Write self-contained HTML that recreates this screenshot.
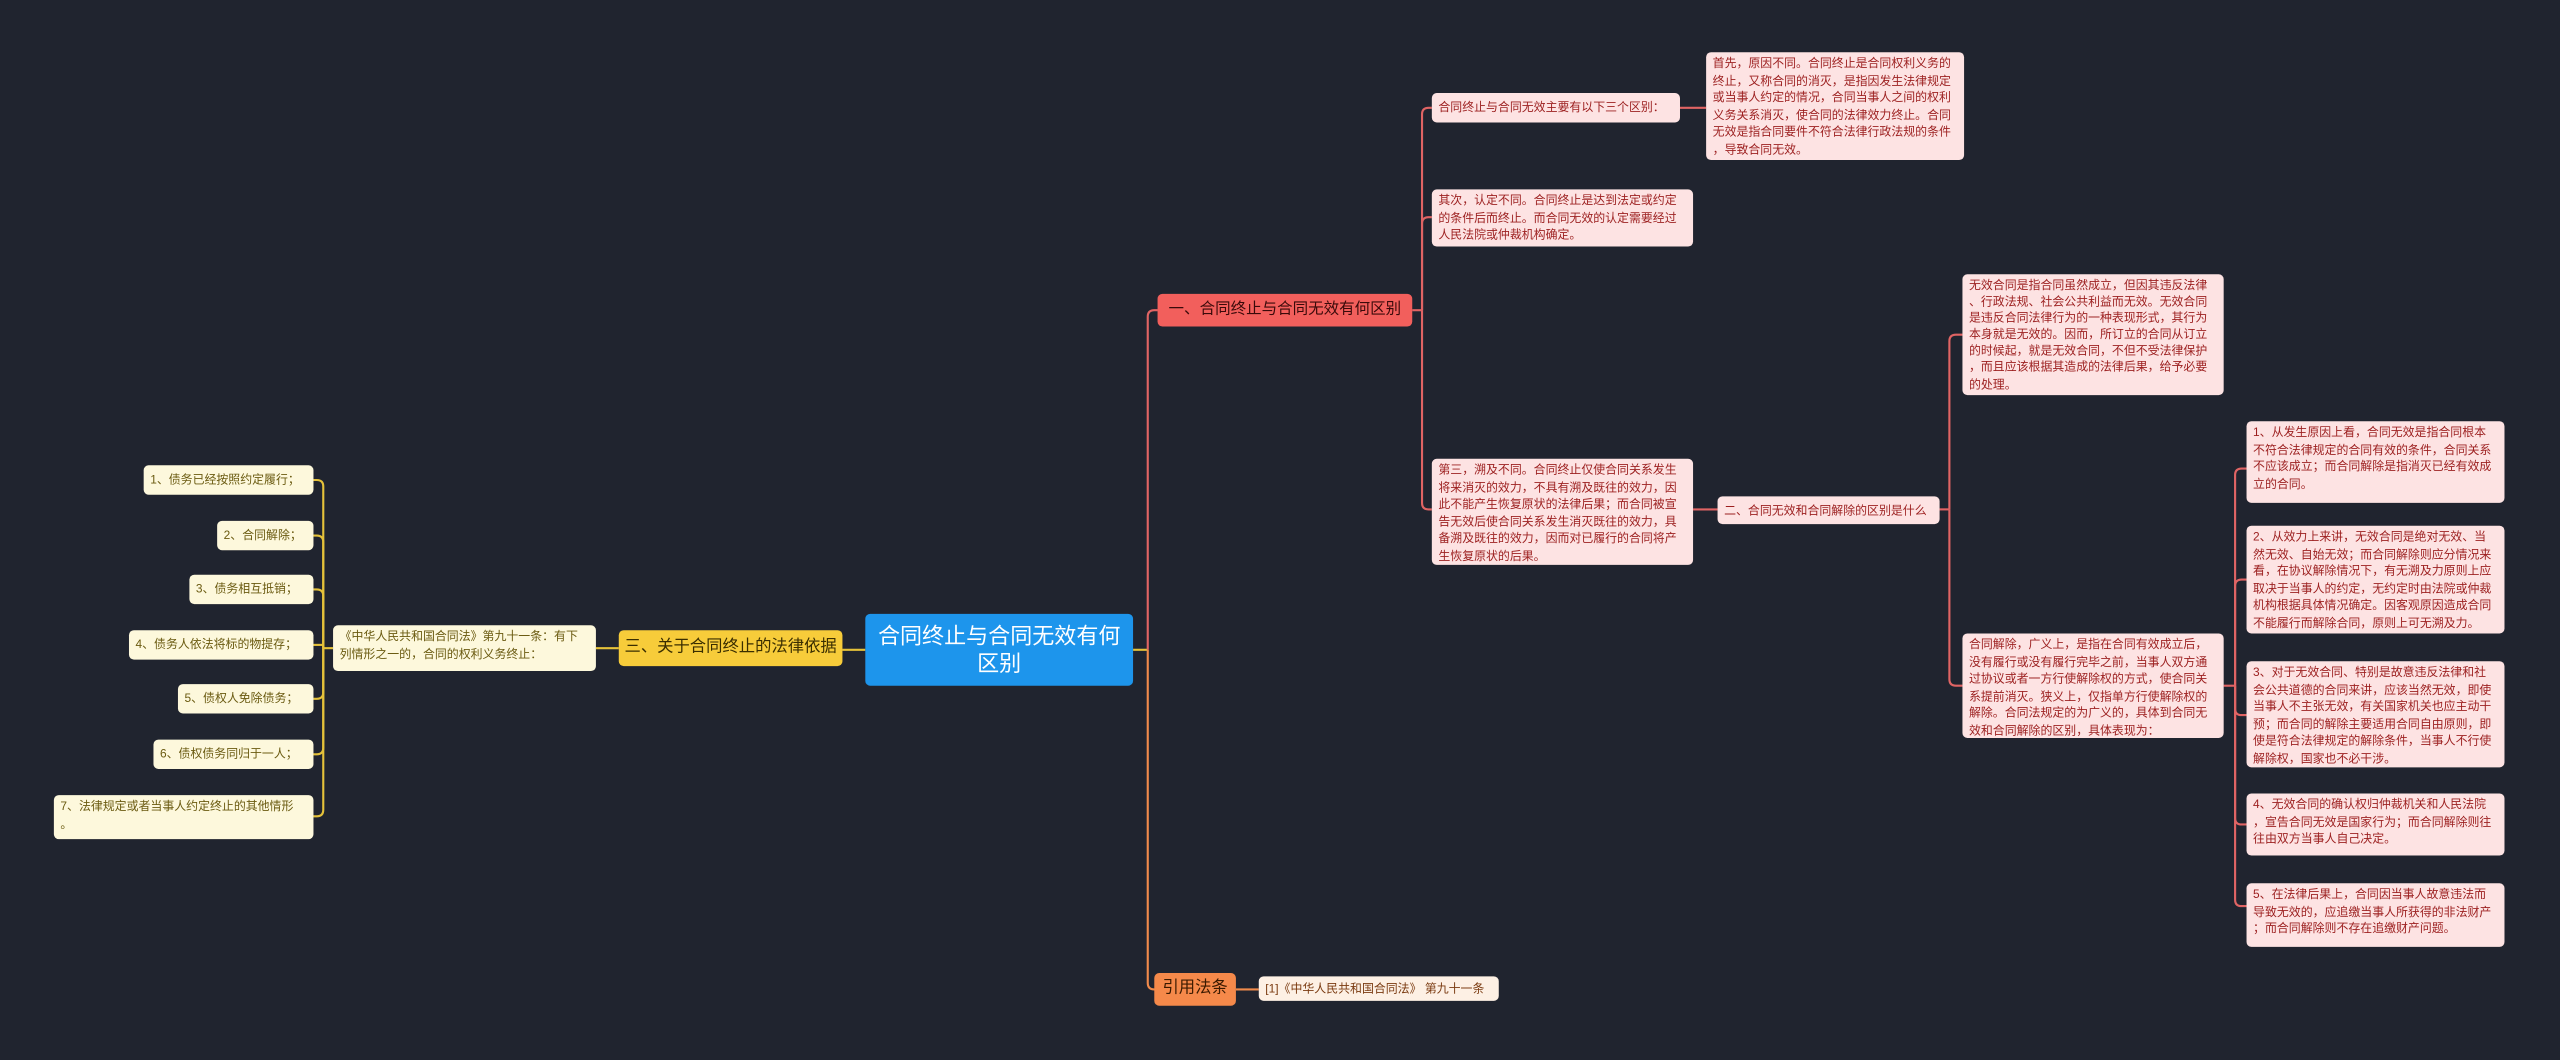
<!DOCTYPE html>
<html><head><meta charset="utf-8">
<style>
html,body{margin:0;padding:0;background:#20242f;}
body{width:2560px;height:1060px;overflow:hidden;}
#w{position:absolute;left:0;top:0;width:1568px;height:649px;transform:scale(1.63265);transform-origin:0 0;font-family:"Liberation Sans","Noto Sans CJK SC",sans-serif;}
.n{position:absolute;box-sizing:border-box;white-space:nowrap;border-radius:3px;}
.p{background:#fde3e3;color:#9c1f1f;font-size:7.3px;line-height:10.6px;padding:2px 4px;}
.c{background:#fdf8dc;color:#6a5a10;font-size:7.3px;line-height:10.6px;padding:2px 4px;}
svg{position:absolute;left:0;top:0;}
</style></head><body><div id="w">
<svg width="1568" height="649" fill="none" stroke-width="1.3">
<g stroke="#e5c23a">
<path d="M530 398 H516"/>
<path d="M379 397 H365"/>
<path d="M204 397 H198"/>
<path d="M198 397 V298 Q198 294 194 294 H192"/>
<path d="M198 397 V332 Q198 328 194 328 H192"/>
<path d="M198 397 V365 Q198 361 194 361 H192"/>
<path d="M198 395 H192"/>
<path d="M198 397 V424 Q198 428 194 428 H192"/>
<path d="M198 397 V458 Q198 462 194 462 H192"/>
<path d="M198 397 V496 Q198 500 194 500 H192"/>
<path d="M694 398 H703"/>
</g>
<g stroke="#e06464">
<path d="M703 398 V194 Q703 190 707 190 H709"/>
<path d="M865 190 H871"/>
<path d="M871 190 V70 Q871 66 875 66 H877"/>
<path d="M871 190 V137 Q871 133 875 133 H877"/>
<path d="M871 190 V308 Q871 312 875 312 H877"/>
<path d="M1029 66 H1045"/>
<path d="M1037 312 H1052"/>
<path d="M1188 312 H1194"/>
<path d="M1194 312 V209 Q1194 205 1198 205 H1202"/>
<path d="M1194 312 V416 Q1194 420 1198 420 H1202"/>
<path d="M1362 420 H1369"/>
<path d="M1369 420 V291 Q1369 287 1373 287 H1376"/>
<path d="M1369 420 V359 Q1369 355 1373 355 H1376"/>
<path d="M1369 420 V434 Q1369 438 1373 438 H1376"/>
<path d="M1369 420 V501 Q1369 505 1373 505 H1376"/>
<path d="M1369 420 V551 Q1369 555 1373 555 H1376"/>
</g>
<g stroke="#f08a4b">
<path d="M703 398 V602 Q703 606 707 606 H709"/>
<path d="M757 606 H771"/>
</g>
</svg>

<div class="n" style="left:530px;top:376px;width:164px;height:44px;background:#1d95ec;color:#fff;font-size:13.5px;line-height:17px;text-align:center;padding-top:5px;">合同终止与合同无效有何<br>区别</div>

<div class="n" style="left:379px;top:386px;width:137px;height:22px;background:#f7cc3a;color:#3a2e00;font-size:10px;line-height:22px;text-align:center;">三、关于合同终止的法律依据</div>
<div class="n c" style="left:204px;top:383px;width:161px;height:28px;">《中华人民共和国合同法》第九十一条：有下<br>列情形之一的，合同的权利义务终止：</div>
<div class="n c" style="left:88px;top:285px;width:104px;height:18px;line-height:14px;">1、债务已经按照约定履行；</div>
<div class="n c" style="left:133px;top:319px;width:59px;height:18px;line-height:14px;">2、合同解除；</div>
<div class="n c" style="left:116px;top:352px;width:76px;height:18px;line-height:14px;">3、债务相互抵销；</div>
<div class="n c" style="left:79px;top:386px;width:113px;height:18px;line-height:14px;">4、债务人依法将标的物提存；</div>
<div class="n c" style="left:109px;top:419px;width:83px;height:18px;line-height:14px;">5、债权人免除债务；</div>
<div class="n c" style="left:94px;top:453px;width:98px;height:18px;line-height:14px;">6、债权债务同归于一人；</div>
<div class="n c" style="left:33px;top:487px;width:159px;height:27px;">7、法律规定或者当事人约定终止的其他情形<br>。</div>

<div class="n" style="left:709px;top:180px;width:156px;height:20px;background:#f25f5c;color:#3a0a0a;font-size:9.5px;line-height:20px;text-align:center;">一、合同终止与合同无效有何区别</div>
<div class="n p" style="left:877px;top:57px;width:152px;height:18px;line-height:14px;">合同终止与合同无效主要有以下三个区别：</div>
<div class="n p" style="left:1045px;top:32px;width:158px;height:66px;">首先，原因不同。合同终止是合同权利义务的<br>终止，又称合同的消灭，是指因发生法律规定<br>或当事人约定的情况，合同当事人之间的权利<br>义务关系消灭，使合同的法律效力终止。合同<br>无效是指合同要件不符合法律行政法规的条件<br>，导致合同无效。</div>
<div class="n p" style="left:877px;top:116px;width:160px;height:35px;">其次，认定不同。合同终止是达到法定或约定<br>的条件后而终止。而合同无效的认定需要经过<br>人民法院或仲裁机构确定。</div>
<div class="n p" style="left:877px;top:281px;width:160px;height:65px;">第三，溯及不同。合同终止仅使合同关系发生<br>将来消灭的效力，不具有溯及既往的效力，因<br>此不能产生恢复原状的法律后果；而合同被宣<br>告无效后使合同关系发生消灭既往的效力，具<br>备溯及既往的效力，因而对已履行的合同将产<br>生恢复原状的后果。</div>
<div class="n p" style="left:1052px;top:304px;width:136px;height:17px;line-height:13px;">二、合同无效和合同解除的区别是什么</div>
<div class="n p" style="left:1202px;top:168px;width:160px;height:74px;line-height:10.1px;">无效合同是指合同虽然成立，但因其违反法律<br>、行政法规、社会公共利益而无效。无效合同<br>是违反合同法律行为的一种表现形式，其行为<br>本身就是无效的。因而，所订立的合同从订立<br>的时候起，就是无效合同，不但不受法律保护<br>，而且应该根据其造成的法律后果，给予必要<br>的处理。</div>
<div class="n p" style="left:1202px;top:388px;width:160px;height:64px;">合同解除，广义上，是指在合同有效成立后，<br>没有履行或没有履行完毕之前，当事人双方通<br>过协议或者一方行使解除权的方式，使合同关<br>系提前消灭。狭义上，仅指单方行使解除权的<br>解除。合同法规定的为广义的，具体到合同无<br>效和合同解除的区别，具体表现为：</div>
<div class="n p" style="left:1376px;top:258px;width:158px;height:50px;">1、从发生原因上看，合同无效是指合同根本<br>不符合法律规定的合同有效的条件，合同关系<br>不应该成立；而合同解除是指消灭已经有效成<br>立的合同。</div>
<div class="n p" style="left:1376px;top:322px;width:158px;height:66px;">2、从效力上来讲，无效合同是绝对无效、当<br>然无效、自始无效；而合同解除则应分情况来<br>看，在协议解除情况下，有无溯及力原则上应<br>取决于当事人的约定，无约定时由法院或仲裁<br>机构根据具体情况确定。因客观原因造成合同<br>不能履行而解除合同，原则上可无溯及力。</div>
<div class="n p" style="left:1376px;top:405px;width:158px;height:65px;">3、对于无效合同、特别是故意违反法律和社<br>会公共道德的合同来讲，应该当然无效，即使<br>当事人不主张无效，有关国家机关也应主动干<br>预；而合同的解除主要适用合同自由原则，即<br>使是符合法律规定的解除条件，当事人不行使<br>解除权，国家也不必干涉。</div>
<div class="n p" style="left:1376px;top:486px;width:158px;height:38px;">4、无效合同的确认权归仲裁机关和人民法院<br>，宣告合同无效是国家行为；而合同解除则往<br>往由双方当事人自己决定。</div>
<div class="n p" style="left:1376px;top:541px;width:158px;height:39px;">5、在法律后果上，合同因当事人故意违法而<br>导致无效的，应追缴当事人所获得的非法财产<br>；而合同解除则不存在追缴财产问题。</div>

<div class="n" style="left:707px;top:596px;width:50px;height:20px;background:#f5894a;color:#3a1a00;font-size:10px;line-height:20px;text-align:center;">引用法条</div>
<div class="n" style="left:771px;top:598px;width:147px;height:15px;background:#fdf0e4;color:#7a3a10;font-size:7.3px;line-height:15px;padding:0 4px;">[1]《中华人民共和国合同法》 第九十一条</div>
</div></body></html>
